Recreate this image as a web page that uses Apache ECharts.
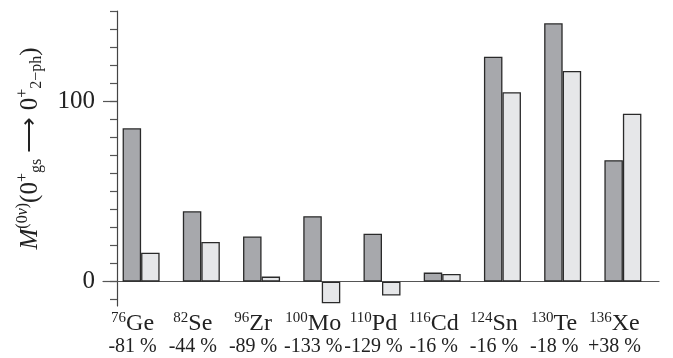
<!DOCTYPE html>
<html>
<head>
<meta charset="utf-8">
<script src="https://cdn.jsdelivr.net/npm/echarts@6/dist/echarts.min.js"></script>
<style>
html, body { margin: 0; padding: 0; background: #fff; }
#chart { width: 673px; height: 358px; }
</style>
</head>
<body>
<div id="chart"></div>
<script>
// nuclei, mass numbers and the percent change printed under each one
var massNum = ['76', '82', '96', '100', '110', '116', '124', '130', '136'];
var element = ['Ge', 'Se', 'Zr', 'Mo', 'Pd', 'Cd', 'Sn', 'Te', 'Xe'];
var change = ['-81 %', '-44 %', '-89 %', '-133 %', '-129 %', '-16 %', '-16 %', '-18 %', '+38 %'];

// dark bars and light bars
var darkVals = [85, 39, 25, 36.3, 26.6, 5, 124.7, 143.2, 67.3];
var lightVals = [16, 22, 2.8, -12, -7.7, 4.2, 105, 116.8, 93.1];

// y ticks
var yTicks = [-10, 0, 10, 20, 30, 40, 50, 60, 70, 80, 90, 100, 110, 120, 130, 140, 150];
var yLabels = [0, 100];

var categories = [];
for (var i = 0; i < element.length; i++) {
    categories.push('{s|' + massNum[i] + '}{e|' + element[i] + '}\n{p|' + change[i] + '}');
}

var serif = 'Liberation Serif';
var yMin = -13.5, yMax = 150;

var chart = echarts.init(document.getElementById('chart'));
chart.setOption({
    animation: false,
    grid: [
        {left: 111, right: 20, top: 11, bottom: 52},
        {left: 103, right: 14, top: 11, bottom: 52}   // only for the zero line
    ],
    xAxis: [
        {
            type: 'category',
            gridIndex: 0,
            data: categories,
            axisLine: {show: false, onZero: false},
            axisTick: {show: false},
            axisLabel: {
                interval: 0,
                hideOverlap: false,
                margin: 5,
                padding: [0, 17, 0, 0],
                fontFamily: serif,
                color: '#222',
                rich: {
                    s: {fontSize: 15, fontFamily: serif, color: '#222', verticalAlign: 'top', lineHeight: 14},
                    e: {fontSize: 24, fontFamily: serif, color: '#222', lineHeight: 25},
                    p: {fontSize: 20, fontFamily: serif, color: '#222', lineHeight: 22}
                }
            }
        },
        {
            type: 'value',
            gridIndex: 1,
            min: 0, max: 1,
            axisLine: {show: true, onZero: true, lineStyle: {color: '#555', width: 1.2}},
            axisTick: {show: false},
            axisLabel: {show: false},
            splitLine: {show: false}
        }
    ],
    yAxis: [
        {
            type: 'value',
            gridIndex: 0,
            position: 'left',
            min: yMin, max: yMax,
            offset: -6,
            axisLine: {show: true, lineStyle: {color: '#444', width: 1.2}},
            axisTick: {show: true, customValues: yTicks, length: 7, lineStyle: {color: '#555', width: 1.2}},
            axisLabel: {show: false},
            splitLine: {show: false},
            name: '{mi|M}{u|(0}{ui|ν}{u|)}{m|(0}{u|+}{d|gs}{m| ⟶ 0}{u|+}{d|2−ph}{m|)}',
            nameLocation: 'middle',
            nameRotate: 90,
            nameGap: 72,
            nameTextStyle: {
                fontFamily: serif,
                color: '#222',
                padding: [0, 0, 0, 20],
                rich: {
                    m: {fontSize: 25, fontFamily: serif, color: '#222', lineHeight: 30},
                    mi: {fontSize: 25, fontFamily: serif, fontStyle: 'italic', color: '#222', lineHeight: 30},
                    u: {fontSize: 16, fontFamily: serif, color: '#222', lineHeight: 15, verticalAlign: 'top'},
                    ui: {fontSize: 16, fontFamily: serif, fontStyle: 'italic', color: '#222', lineHeight: 15, verticalAlign: 'top'},
                    d: {fontSize: 16, fontFamily: serif, color: '#222', lineHeight: 15, verticalAlign: 'bottom'}
                }
            }
        },
        {
            type: 'value',
            gridIndex: 0,
            position: 'left',
            min: yMin, max: yMax,
            offset: -6,
            axisLine: {show: false},
            axisTick: {show: true, customValues: yLabels, length: 14, lineStyle: {color: '#555', width: 1.2}},
            axisLabel: {show: true, customValues: yLabels, margin: 22, fontFamily: serif, fontSize: 25, color: '#222'},
            splitLine: {show: false}
        },
        {
            type: 'value',
            gridIndex: 1,
            min: yMin, max: yMax,
            show: false
        }
    ],
    series: [
        {
            type: 'bar',
            xAxisIndex: 0, yAxisIndex: 0,
            data: darkVals,
            barWidth: 18.5,
            barGap: '0%',
            itemStyle: {color: '#a7a8ac', borderColor: '#2a2a2a', borderWidth: 1.3}
        },
        {
            type: 'bar',
            xAxisIndex: 0, yAxisIndex: 0,
            data: lightVals,
            barWidth: 18.5,
            barGap: '0%',
            itemStyle: {color: '#e6e7e9', borderColor: '#2a2a2a', borderWidth: 1.3}
        }
    ]
});
</script>
</body>
</html>
